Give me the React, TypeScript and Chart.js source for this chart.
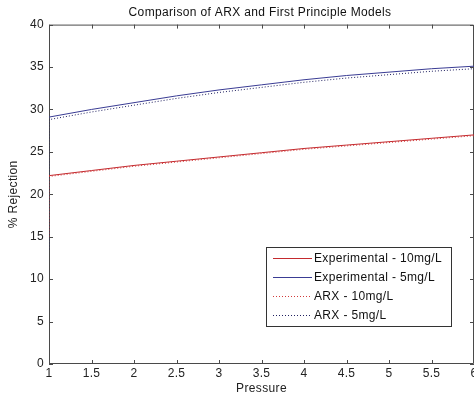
import React, { useEffect, useRef } from "react";
import { Chart, registerables } from "chart.js";

Chart.register(...registerables);

const pressure = [1, 1.5, 2, 2.5, 3, 3.5, 4, 4.5, 5, 5.5, 6];
const exp10 = [22.2, 22.8, 23.4, 23.9, 24.4, 24.9, 25.4, 25.8, 26.2, 26.6, 27.0];
const exp5 = [29.1, 30.0, 30.8, 31.6, 32.3, 32.9, 33.5, 34.0, 34.4, 34.8, 35.1];
const arxPressure = [1, 1, 1.5, 2, 2.5, 3, 3.5, 4, 4.5, 5, 5.5, 6];
const arx10 = [15.0, 22.1, 22.7, 23.3, 23.8, 24.3, 24.8, 25.3, 25.7, 26.1, 26.5, 26.9];
const arx5 = [13.5, 28.8, 29.7, 30.5, 31.3, 32.0, 32.6, 33.2, 33.7, 34.1, 34.5, 34.8];
const seriesLabels = [
  "Experimental - 10mg/L",
  "Experimental - 5mg/L",
  "ARX - 10mg/L",
  "ARX - 5mg/L",
];
const chartTitle = "Comparison of ARX and First Principle Models";
const xTicks = [1, 1.5, 2, 2.5, 3, 3.5, 4, 4.5, 5, 5.5, 6];
const yTicks = [0, 5, 10, 15, 20, 25, 30, 35, 40];

const FONT = "'Liberation Sans', Arial, sans-serif";
const RED = "#c42a2e";
const BLUE = "#3a3c94";
const AXIS = "#4a4a4a";
const SPACING = "0.35px";

const spacingPlugin = {
  id: "spacing",
  beforeUpdate(chart: any) {
    chart.ctx.letterSpacing = SPACING;
  },
  beforeDraw(chart: any) {
    chart.ctx.letterSpacing = SPACING;
  },
};

const framePlugin = {
  id: "frame",
  beforeDatasetsDraw(chart: any) {
    const { ctx, chartArea: a, scales } = chart;
    ctx.save();
    ctx.strokeStyle = AXIS;
    ctx.lineWidth = 1;
    ctx.beginPath();
    ctx.rect(a.left + 0.5, a.top + 0.5, a.right - a.left - 1, a.bottom - a.top - 1);
    ctx.stroke();
    const tl = 4;
    ctx.beginPath();
    xTicks.forEach((t) => {
      const x = Math.round(scales.x.getPixelForValue(t)) + 0.5;
      ctx.moveTo(x, a.bottom);
      ctx.lineTo(x, a.bottom - tl);
      ctx.moveTo(x, a.top);
      ctx.lineTo(x, a.top + tl);
    });
    yTicks.forEach((t) => {
      const y = Math.round(scales.y.getPixelForValue(t)) + 0.5;
      ctx.moveTo(a.left, y);
      ctx.lineTo(a.left + tl, y);
      ctx.moveTo(a.right, y);
      ctx.lineTo(a.right - tl, y);
    });
    ctx.stroke();
    ctx.restore();
  },
  afterDraw(chart: any) {
    const { ctx, chartArea: a } = chart;
    ctx.save();
    ctx.font = "12px " + FONT;
    ctx.letterSpacing = SPACING;
    ctx.fillStyle = "#111111";
    ctx.textAlign = "center";
    ctx.textBaseline = "middle";
    ctx.fillText(chartTitle, (a.left + a.right) / 2 - 1.5, 12.5);

    const bx = 266.5, by = 247.5, bw = 185, bh = 79;
    ctx.fillStyle = "#ffffff";
    ctx.fillRect(bx, by, bw, bh);
    ctx.strokeStyle = "#333333";
    ctx.lineWidth = 1;
    ctx.strokeRect(bx, by, bw, bh);
    const rows = [258.5, 277.5, 296.5, 315.5];
    ctx.textAlign = "left";
    chart.data.datasets.forEach((ds: any, i: number) => {
      const y = rows[i];
      ctx.strokeStyle = ds.borderColor;
      ctx.lineWidth = 1;
      ctx.setLineDash(ds.borderDash || []);
      ctx.beginPath();
      ctx.moveTo(273, y);
      ctx.lineTo(312, y);
      ctx.stroke();
      ctx.setLineDash([]);
      ctx.fillStyle = "#111111";
      ctx.fillText(ds.label, 314, y + 0.5);
    });
    ctx.restore();
  },
};

export default function App() {
  const ref = useRef<HTMLCanvasElement | null>(null);
  useEffect(() => {
    if (!ref.current) return;
    const chart = new Chart(ref.current, {
      type: "line",
      data: {
        datasets: [
          {
            label: seriesLabels[0],
            data: pressure.map((x, i) => ({ x, y: exp10[i] })),
            borderColor: RED,
            borderWidth: 1,
            pointRadius: 0,
          },
          {
            label: seriesLabels[1],
            data: pressure.map((x, i) => ({ x, y: exp5[i] })),
            borderColor: BLUE,
            borderWidth: 1,
            pointRadius: 0,
          },
          {
            label: seriesLabels[2],
            data: arxPressure.map((x, i) => ({ x, y: arx10[i] })),
            borderColor: "#d23a3a",
            borderWidth: 1,
            borderDash: [1, 2],
            pointRadius: 0,
          },
          {
            label: seriesLabels[3],
            data: arxPressure.map((x, i) => ({ x, y: arx5[i] })),
            borderColor: "#202060",
            borderWidth: 1,
            borderDash: [1, 2],
            pointRadius: 0,
          },
        ],
      },
      options: {
        responsive: false,
        animation: false,
        layout: { padding: { top: 24.6, left: 0, right: 0, bottom: 0 } },
        plugins: {
          legend: { display: false },
          tooltip: { enabled: false },
          title: { display: false },
        },
        scales: {
          x: {
            type: "linear",
            min: 1,
            max: 6,
            grid: { display: false, drawTicks: false },
            border: { display: false },
            afterBuildTicks: (s: any) => {
              s.ticks = xTicks.map((v) => ({ value: v }));
            },
            afterFit: (s: any) => {
              s.height = 32;
              s.paddingLeft = 0;
              s.paddingRight = 0;
            },
            ticks: {
              autoSkip: false,
              maxRotation: 0,
              padding: 2,
              color: "#222222",
              font: { family: FONT, size: 12 },
              callback: (v: any) => String(v),
            },
            title: {
              display: true,
              text: "Pressure",
              color: "#222222",
              font: { family: FONT, size: 12 },
              padding: { top: 0, bottom: 0.5 },
            },
          },
          y: {
            type: "linear",
            min: 0,
            max: 40,
            grid: { display: false, drawTicks: false },
            border: { display: false },
            afterBuildTicks: (s: any) => {
              s.ticks = yTicks.map((v) => ({ value: v }));
            },
            afterFit: (s: any) => {
              s.width = 49;
              s.paddingTop = 0;
              s.paddingBottom = 0;
            },
            ticks: {
              autoSkip: false,
              padding: 5,
              color: "#222222",
              font: { family: FONT, size: 12 },
            },
            title: {
              display: true,
              text: "% Rejection",
              color: "#222222",
              font: { family: FONT, size: 12 },
              padding: { top: 6.5, bottom: 0 },
            },
          },
        },
      },
      plugins: [spacingPlugin, framePlugin],
    } as any);
    return () => chart.destroy();
  }, []);
  return (
    <div style={{ position: "fixed", left: 0, top: 0, width: 474, height: 396, background: "#fff" }}>
      <canvas ref={ref} width={474} height={396} style={{ display: "block", width: 474, height: 396 }} />
    </div>
  );
}
